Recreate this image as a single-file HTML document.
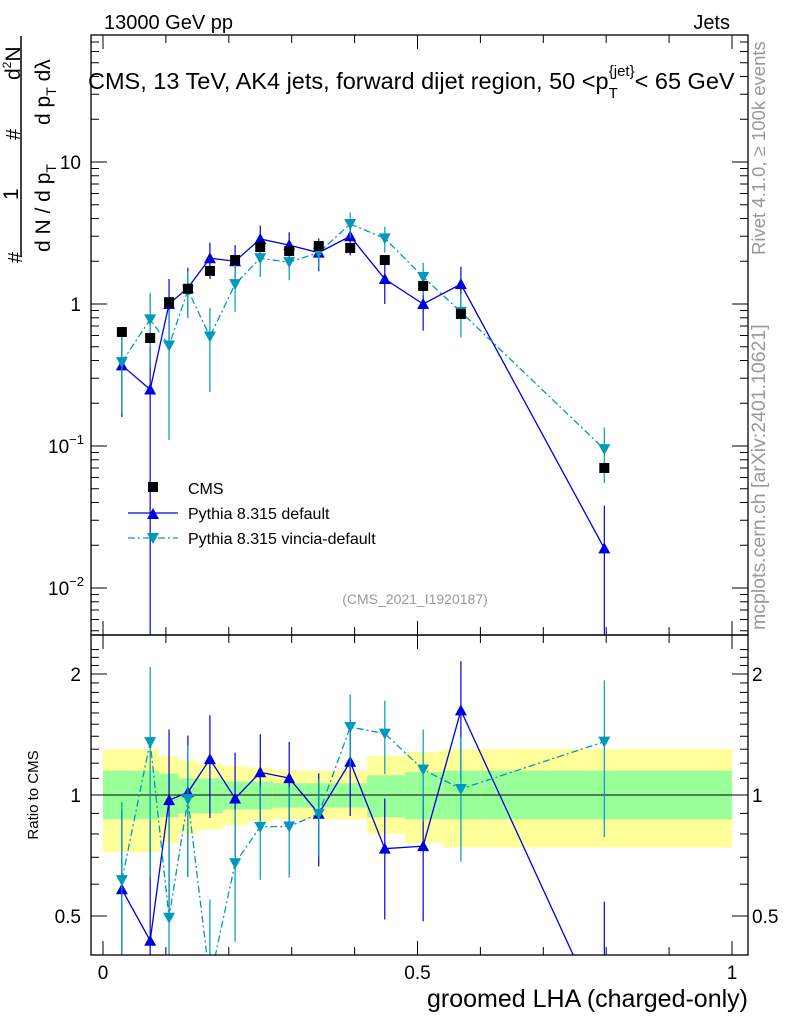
<!DOCTYPE html>
<html><head><meta charset="utf-8"><style>
html,body{margin:0;padding:0;background:#fff}
svg{display:block;font-family:"Liberation Sans",sans-serif}
</style></head><body>
<svg id="c" width="786" height="1024" viewBox="0 0 786 1024">
<g id="bands"></g>
<g id="marks"></g>
<g id="axes"></g>
<text x="104" y="29" font-size="20">13000 GeV pp</text>
<text x="730" y="29" font-size="20" text-anchor="end">Jets</text>
<text x="88" y="89" font-size="23.5">CMS, 13 TeV, AK4 jets, forward dijet region, 50 &lt;p<tspan font-size="15" dy="9">T</tspan><tspan font-size="15" dy="-22" dx="-9">{jet}</tspan><tspan dy="13">&lt; 65 GeV</tspan></text>
<text x="415" y="604" font-size="14" fill="#999" text-anchor="middle">(CMS_2021_I1920187)</text>
<text transform="translate(765,255) rotate(-90)" font-size="18.5" fill="#999">Rivet 4.1.0, ≥ 100k events</text>
<text transform="translate(765,630) rotate(-90)" font-size="19.5" fill="#999">mcplots.cern.ch [arXiv:2401.10621]</text>
<g>
<text transform="translate(22,263) rotate(-90)" font-size="20">#</text>
<text transform="translate(50,252) rotate(-90)" font-size="21">d N / d p<tspan font-size="14" dy="6">T</tspan></text>
<text transform="translate(18,200) rotate(-90)" font-size="21">1</text>
<line x1="21" y1="257" x2="21" y2="36" stroke="#000" stroke-width="1.5"/>
<text transform="translate(20,140) rotate(-90)" font-size="20">#</text>
<text transform="translate(20,80) rotate(-90)" font-size="21">d<tspan font-size="12" dy="-9">2</tspan><tspan dy="9">N</tspan></text>
<text transform="translate(50,125) rotate(-90)" font-size="21">d p<tspan font-size="14" dy="6">T</tspan><tspan dy="-6"> dλ</tspan></text>
</g>
<text transform="translate(38,795) rotate(-90)" font-size="15" text-anchor="middle">Ratio to CMS</text>
<text x="748" y="1007" font-size="25" text-anchor="end">groomed LHA (charged-only)</text>
<g>
<rect x="148" y="482" width="10" height="10" fill="#000"/>
<text x="188" y="494" font-size="16">CMS</text>
<line x1="128" y1="513" x2="178" y2="513" stroke="#0000dd" stroke-width="1.3"/>
<path d="M147,519 L159,519 L153,508 Z" fill="#0000dd"/>
<text x="188" y="519" font-size="16">Pythia 8.315 default</text>
<line x1="128" y1="538" x2="178" y2="538" stroke="#0099bb" stroke-width="1.3" stroke-dasharray="7,3,2,3"/>
<path d="M147,533 L159,533 L153,544 Z" fill="#0099bb"/>
<text x="188" y="544" font-size="16">Pythia 8.315 vincia-default</text>
</g>
</svg>
<script>
const xVals=[0.030,0.075,0.105,0.135,0.170,0.210,0.250,0.296,0.343,0.393,0.448,0.509,0.569,0.797];
const binEdges=[0,0.06,0.09,0.12,0.15,0.19,0.23,0.27,0.32,0.37,0.42,0.48,0.54,0.6,1.0];
const cmsVals=[0.635,0.576,1.03,1.28,1.71,2.04,2.52,2.36,2.56,2.48,2.04,1.34,0.85,0.070];
const defVals=[0.37,0.25,1.0,1.3,2.1,2.0,2.87,2.6,2.3,3.0,1.5,1.0,1.38,0.019];
const defErr=[0.21,0.25,0.5,0.5,0.6,0.6,0.7,0.6,0.6,0.8,0.5,0.35,0.45,0.019];
const vinVals=[0.39,0.78,0.51,1.25,0.59,1.38,2.1,1.97,2.3,3.66,2.9,1.55,0.88,0.095];
const vinErr=[0.22,0.42,0.4,0.45,0.35,0.5,0.55,0.5,0.5,0.75,0.6,0.4,0.3,0.04];
const yellowUp=[1.3,1.3,1.25,1.22,1.2,1.18,1.17,1.15,1.15,1.15,1.25,1.28,1.3,1.3];
const yellowDn=[0.72,0.72,0.76,0.8,0.82,0.84,0.86,0.87,0.87,0.87,0.8,0.76,0.74,0.74];
const greenUp=[1.15,1.15,1.13,1.1,1.1,1.08,1.08,1.07,1.07,1.07,1.12,1.14,1.15,1.15];
const greenDn=[0.87,0.87,0.88,0.9,0.9,0.92,0.92,0.93,0.93,0.93,0.88,0.87,0.87,0.87];

const NS='http://www.w3.org/2000/svg';
const L=91,R=748,T=35,M=635,B=955;
const X=v=>103+629*v;
const Y=v=>304-142*Math.log10(v);
const YR=v=>795-402*Math.log10(v);
function mk(p,t,a){const e=document.createElementNS(NS,t);for(const k in a)e.setAttribute(k,a[k]);p.appendChild(e);return e;}
const bands=document.getElementById('bands'),marks=document.getElementById('marks'),axes=document.getElementById('axes');
const cl=v=>Math.max(M,Math.min(B,v)), ct=v=>Math.max(T,Math.min(M,v));
for(let i=0;i<cmsVals.length;i++){
  const x0=X(binEdges[i]),x1=X(binEdges[i+1]);
  let r=mk(bands,'rect',{x:x0,y:YR(yellowUp[i]),width:x1-x0,height:YR(yellowDn[i])-YR(yellowUp[i]),fill:'#ffff99'});
  
  
  r=mk(bands,'rect',{x:x0,y:YR(greenUp[i]),width:x1-x0,height:YR(greenDn[i])-YR(greenUp[i]),fill:'#99ff99'});
  
  
}
mk(bands,'line',{x1:L,x2:R,y1:YR(1),y2:YR(1),stroke:'#000','stroke-width':1});
function series(vals,err,col,dash,down,name){
  const g=mk(marks,'g',{});
  
  
  const pts=[],rpts=[];
  vals.forEach((v,i)=>{
    const x=X(xVals[i]);
    pts.push(x+','+Y(v));
    const lo=v-err[i];
    mk(g,'line',{x1:x,x2:x,y1:ct(Y(v+err[i])),y2:lo>0?ct(Y(lo)):M,stroke:col,'stroke-width':1.2});
    const r=v/cmsVals[i],rl=(v-err[i])/cmsVals[i],rh=(v+err[i])/cmsVals[i];
    rpts.push(x+','+YR(r));
    mk(g,'line',{x1:x,x2:x,y1:cl(YR(rh)),y2:rl>0?cl(YR(rl)):B,stroke:col,'stroke-width':1.2});
  });
  const s={stroke:col,'stroke-width':1.3,fill:'none'};if(dash)s['stroke-dasharray']=dash;
  mk(g,'polyline',Object.assign({points:pts.join(' ')},s));
  const cp=mk(g,'clipPath',{id:'cp'+name});mk(cp,'rect',{x:L,y:M,width:R-L,height:B-M});
  mk(g,'polyline',Object.assign({points:rpts.join(' '),'clip-path':'url(#cp'+name+')'},s));
  vals.forEach((v,i)=>{
    const x=X(xVals[i]);
    [Y(v),YR(v/cmsVals[i])].forEach(y=>{
      if(y<T||y>B)return;
      const d=down?`M${x-6},${y-5} L${x+6},${y-5} L${x},${y+6} Z`:`M${x-6},${y+5} L${x+6},${y+5} L${x},${y-6} Z`;
      const p=mk(g,'path',{d:d,fill:col});
      
      
    });
  });
}
series(defVals,defErr,'#0000dd',null,false,'pythia-default');
series(vinVals,vinErr,'#0099bb','7,3,2,3',true,'pythia-vincia');
cmsVals.forEach((v,i)=>{
  const r=mk(marks,'rect',{x:X(xVals[i])-5,y:Y(v)-5,width:10,height:10,fill:'#000'});
  
  
});
mk(axes,'rect',{x:L,y:T,width:R-L,height:M-T,fill:'none',stroke:'#000','stroke-width':1.3});
mk(axes,'rect',{x:L,y:M,width:R-L,height:B-M,fill:'none',stroke:'#000','stroke-width':1.3});
for(let k=0;k<=10;k++){const x=X(k/10),len=k%5==0?14:8;
  mk(axes,'line',{x1:x,x2:x,y1:B,y2:B-len,stroke:'#000'});mk(axes,'line',{x1:x,x2:x,y1:M,y2:M+len,stroke:'#000'});
  mk(axes,'line',{x1:x,x2:x,y1:M,y2:M-len,stroke:'#000'});mk(axes,'line',{x1:x,x2:x,y1:T,y2:T+len,stroke:'#000'});}
const xLabs=['0','0.5','1'];
xLabs.forEach((t,i)=>{const e=mk(axes,'text',{x:X(i*0.5),y:979,'font-size':19,'text-anchor':'middle'});e.textContent=t;});
for(let d=-3;d<=1;d++)for(let m=1;m<10;m++){const v=m*Math.pow(10,d),y=Y(v);if(y<T||y>M)continue;const len=m==1?16:8;
  mk(axes,'line',{x1:L,x2:L+len,y1:y,y2:y,stroke:'#000'});mk(axes,'line',{x1:R,x2:R-len,y1:y,y2:y,stroke:'#000'});}
const mainLab=[[10,'10'],[1,'1']];
mainLab.forEach(([v,t])=>{const e=mk(axes,'text',{x:81,y:Y(v)+7,'font-size':19,'text-anchor':'end'});e.textContent=t;});
[[0.1,'-1'],[0.01,'-2']].forEach(([v,p])=>{const e=mk(axes,'text',{x:84,y:Y(v)+7,'font-size':19,'text-anchor':'end'});e.innerHTML='10<tspan font-size="13" dy="-9">−'+p.slice(1)+'</tspan>';});
for(let v=0.4;v<=2.31;v+=0.1){const y=YR(v);if(y<M||y>B)continue;const maj=[0.5,1,2].some(q=>Math.abs(q-v)<1e-6),len=maj?16:8;
  mk(axes,'line',{x1:L,x2:L+len,y1:y,y2:y,stroke:'#000'});mk(axes,'line',{x1:R,x2:R-len,y1:y,y2:y,stroke:'#000'});}
[[2,'2'],[1,'1'],[0.5,'0.5']].forEach(([v,t])=>{
  let e=mk(axes,'text',{x:81,y:YR(v)+7,'font-size':19,'text-anchor':'end'});e.textContent=t;
  e=mk(axes,'text',{x:752,y:YR(v)+7,'font-size':19});e.textContent=t;});
</script>
</body></html>
